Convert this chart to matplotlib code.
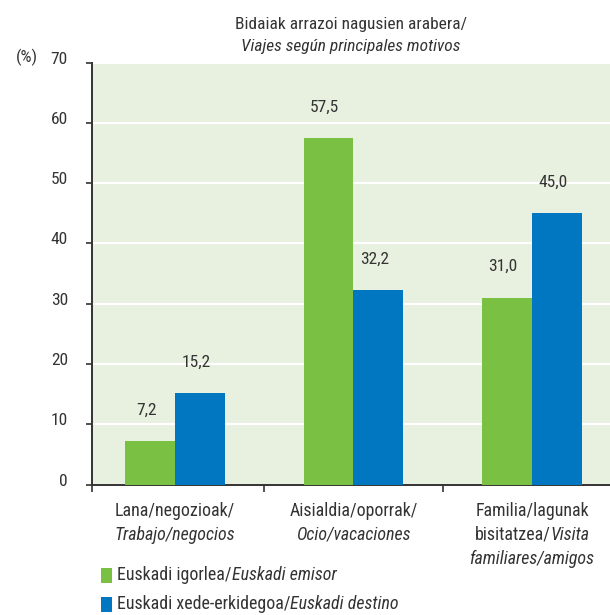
import matplotlib
matplotlib.use("Agg")
import matplotlib.pyplot as plt
import matplotlib.transforms as mtransforms
from matplotlib.offsetbox import TextArea, HPacker, VPacker, AnnotationBbox, DrawingArea
from matplotlib.patches import Rectangle

plt.rcParams['font.family'] = ['Roboto Condensed', 'DejaVu Sans']

# datos: viajes según principales motivos (%)
title_lines = ["Bidaiak arrazoi nagusien arabera/", "Viajes según principales motivos"]
emisor = [7.2, 57.5, 31.0]
destino = [15.2, 32.2, 45.0]
# cada etiqueta: líneas formadas por tramos (texto, estilo)
categories = [
    [[("Lana/negozioak/", "normal")], [("Trabajo/negocios", "italic")]],
    [[("Aisialdia/oporrak/", "normal")], [("Ocio/vacaciones", "italic")]],
    [[("Familia/lagunak", "normal")],
     [("bisitatzea/", "normal"), ("Visita", "italic")],
     [("familiares/amigos", "italic")]],
]
series_names = [("Euskadi igorlea/", "Euskadi emisor"),
                ("Euskadi xede-erkidegoa/", "Euskadi destino")]
yticks = [0, 10, 20, 30, 40, 50, 60, 70]

GREEN = "#7ac143"
BLUE = "#0077c0"
BG = "#e8f0df"
TXT = "#333333"
FS = 12.5
FS_LAB = 12.9

W, H = 610, 615
PT = 72 / 100  # puntos por píxel
fig = plt.figure(figsize=(W / 100, H / 100), dpi=100)
ax = fig.add_axes([92 / W, 1 - 484.5 / H, (610 - 92) / W, (484.5 - 62.5) / H])
ax.set_facecolor(BG)

x = list(range(len(emisor)))
bw = 0.28
ax.bar([i - bw / 2 for i in x], emisor, bw, color=GREEN, zorder=3)
ax.bar([i + bw / 2 for i in x], destino, bw, color=BLUE, zorder=3)

for vals, dx in ((emisor, -bw / 2), (destino, bw / 2)):
    for i, v in enumerate(vals):
        ax.annotate(f"{v:.1f}".replace(".", ","), (i + dx, v),
                    xytext=(-4, 31), textcoords="offset pixels",
                    ha="center", va="center", fontsize=FS, color=TXT)

ax.set_xlim(-0.465, 2.437)
ax.set_ylim(0, 70)
ax.set_yticks(yticks)
ax.yaxis.grid(True, color="white", linewidth=1.6, zorder=1)
ax.set_axisbelow(True)
for s in ("top", "right"):
    ax.spines[s].set_visible(False)
for s in ("left", "bottom"):
    ax.spines[s].set_color(TXT)
    ax.spines[s].set_linewidth(1.4)
ax.tick_params(axis="y", direction="out", length=4.3, width=1.2, color=TXT,
               labelsize=FS, labelcolor=TXT, pad=13)
ax.set_xticks([-0.465, 0.5, 1.5])
ax.set_xticklabels([])
ax.tick_params(axis="x", direction="out", length=5, width=1.2, color=TXT)

up = mtransforms.ScaledTranslation(0, 5 / 100, fig.dpi_scale_trans)
for lab in ax.get_yticklabels():
    lab.set_transform(lab.get_transform() + up)


def mixed_line(segments, fs=FS_LAB):
    parts = [TextArea(t, textprops=dict(fontsize=fs, fontstyle=st, color=TXT))
             for t, st in segments]
    return HPacker(children=parts, align="baseline", pad=0, sep=0)


# etiquetas de categoría bajo el eje
for i, lines in enumerate(categories):
    box = VPacker(children=[mixed_line(l) for l in lines], align="center", pad=0, sep=4.5)
    ab = AnnotationBbox(box, (i, 0), xybox=(0, -17), xycoords="data",
                        boxcoords="offset pixels", box_alignment=(0.5, 1),
                        frameon=False, pad=0, annotation_clip=False)
    ax.add_artist(ab)

# título en dos líneas
fig.text(351 / W, 1 - 25 / H, title_lines[0], ha="center", va="center",
         fontsize=FS, color=TXT)
fig.text(351 / W, 1 - 47 / H, title_lines[1], ha="center", va="center",
         fontsize=FS, color=TXT, fontstyle="italic")
fig.text(27 / W, 1 - 57 / H, "(%)", ha="center", va="center", fontsize=FS, color=TXT)

# leyenda
for (reg, ital), col, yc in zip(series_names, (GREEN, BLUE), (575, 604)):
    da = DrawingArea(11 * PT, 15 * PT, 0, 0)
    da.add_artist(Rectangle((0, 0), 11 * PT, 15 * PT, facecolor=col, edgecolor="none"))
    row = HPacker(children=[da, mixed_line([(reg, "normal"), (ital, "italic")])],
                  align="center", pad=0, sep=5 * PT)
    ab = AnnotationBbox(row, (101, H - yc), xycoords="figure pixels",
                        box_alignment=(0, 0.5), frameon=False, pad=0)
    fig.add_artist(ab)

fig.savefig("out.png", dpi=100)
